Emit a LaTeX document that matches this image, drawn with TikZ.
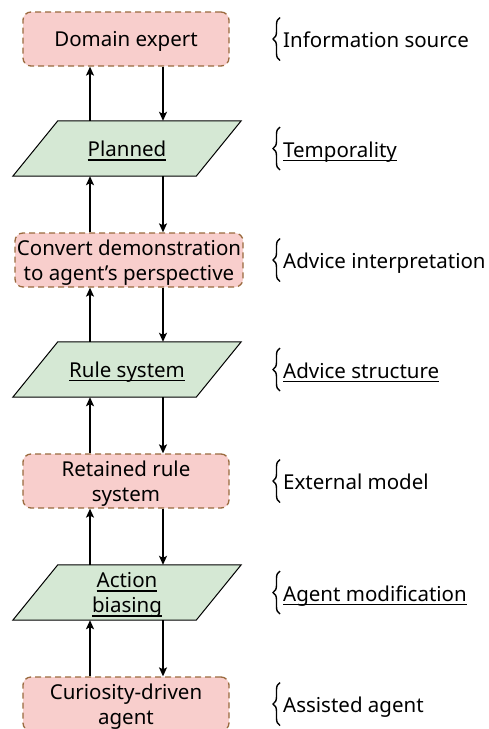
\documentclass[tikz,border=0pt]{standalone}
\usepackage{fontspec}
\setmainfont{Noto Sans}
\usetikzlibrary{arrows.meta,decorations.pathreplacing,backgrounds}
\definecolor{pinkfill}{HTML}{F8CECC}
\definecolor{pinkline}{HTML}{9A6A3E}
\definecolor{greenfill}{HTML}{D5E8D4}
\newsavebox\ulbox
\newcommand\myul[1]{\sbox\ulbox{#1}\rlap{\rule[-4pt]{\wd\ulbox}{1.3pt}}\usebox\ulbox}
\begin{document}
\begin{tikzpicture}[x=1pt,y=-1pt,
  txt/.style={font=\fontsize{20.5}{25}\selectfont, inner sep=0pt, align=center},
  advbox/.style={draw=pinkline, fill=pinkfill, dash pattern=on 6pt off 4pt, line width=1.3pt,
    rounded corners=8pt, minimum width=206pt, minimum height=54pt, inner sep=0pt},
  para/.style={minimum width=183pt, minimum height=55pt, inner sep=0pt},
  paraedge/.style={draw=black, fill=greenfill, line width=1pt},
  arr/.style={-{Stealth[length=9pt,width=8pt,inset=2pt]}, line width=1.3pt},
  brc/.style={decorate, decoration={brace, amplitude=7pt, aspect=0.5}, line width=1.4pt},
  lbl/.style={font=\fontsize{20.5}{25}\selectfont, anchor=base west, inner sep=0pt}]
\useasboundingbox (0,0) rectangle (489,729);
\coordinate (ux) at (90,0);
\coordinate (dx) at (163,0);

% shapes
\node[advbox] (b1) at (126,39) {};
\node[para] (p1) at (127,148.5) {};
\node[advbox, minimum width=228pt] (b2) at (129,260) {};
\node[para] (p2) at (127,369.5) {};
\node[advbox] (b3) at (126,481) {};
\node[para] (p3) at (127,592.5) {};
\node[advbox] (b4) at (126,704) {};

\begin{scope}[on background layer]
\foreach \p in {p1,p2,p3}{
  \draw[paraedge] ([xshift=22.5pt]\p.north west) -- ([xshift=22.5pt]\p.north east)
    -- ([xshift=-22.5pt]\p.south east) -- ([xshift=-22.5pt]\p.south west) -- cycle;
}
\end{scope}

% texts
\node[txt] (t1) at ([yshift=-2.5pt]b1.center) {Domain expert};
\node[txt] (t2) at ([yshift=-2.5pt]p1.center) {\myul{Planned}};
\node[txt] (t3) at ([yshift=-2.5pt]b2.center) {Convert demonstration\\to agent’s perspective};
\node[txt] (t4) at ([yshift=-2.5pt]p2.center) {\myul{Rule system}};
\node[txt] (t5) at ([yshift=-2.5pt]b3.center) {Retained rule\\system};
\node[txt] (t6) at ([yshift=-2.5pt]p3.center) {\myul{Action}\\\myul{biasing}};
\node[txt] (t7) at ([yshift=-2.5pt]b4.center) {Curiosity-driven\\agent};

% arrows
\foreach \lo/\hi in {p1/b1,b2/p1,p2/b2,b3/p2,p3/b3,b4/p3}{
  \draw[arr] (\lo.north -| ux) -- (\hi.south -| ux);
  \draw[arr] (\hi.south -| dx) -- (\lo.north -| dx);
}

% braces and labels
\foreach \cy/\nm/\tx in {39/l1/{Information source},148.5/l2/{\myul{Temporality}},
  260/l3/{Advice interpretation},369.5/l4/{\myul{Advice structure}},
  481/l5/{External model},592.5/l6/{\myul{Agent modification}},704/l7/{Assisted agent}}{
  \draw[brc] (280,\cy+21.5) -- (280,\cy-21.5);
  \node[lbl] (\nm) at (283,\cy+8.5) {\tx};
}
\end{tikzpicture}
\end{document}
